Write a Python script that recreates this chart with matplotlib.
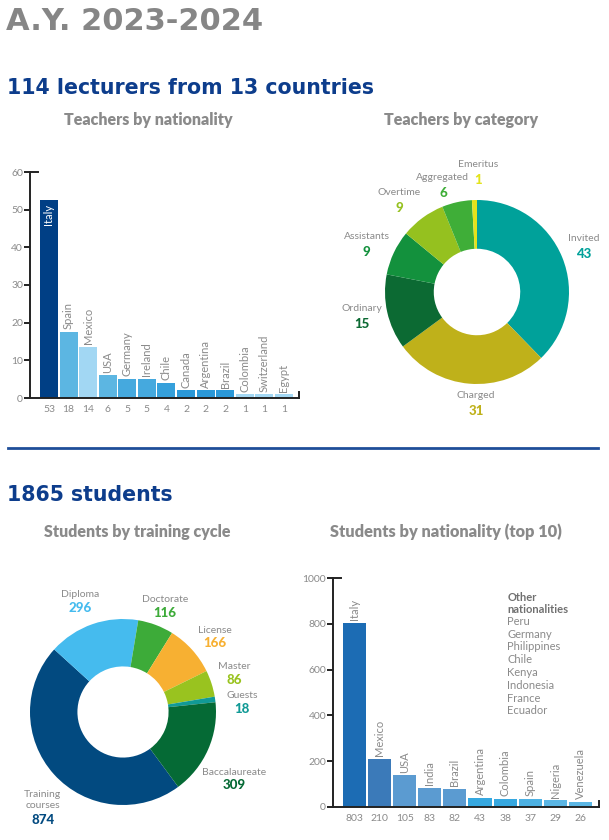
import numpy as np
import matplotlib
matplotlib.use('Agg')
import matplotlib.pyplot as plt
from matplotlib.lines import Line2D

plt.rcParams['font.family'] = ['Lato', 'DejaVu Sans']

W, H = 609, 840
GRAY = '#8a8a8a'
NAVY = '#0d3d8c'

# teachers by nationality
t_countries = ['Italy', 'Spain', 'Mexico', 'USA', 'Germany', 'Ireland', 'Chile',
               'Canada', 'Argentina', 'Brazil', 'Colombia', 'Switzerland', 'Egypt']
t_counts = [53, 18, 14, 6, 5, 5, 4, 2, 2, 2, 1, 1, 1]
t_colors = ['#003f85', '#5cb6e2', '#a2d7f3', '#5cb6e2', '#45a9de', '#45a9de', '#35a0db',
            '#2a98d8', '#2a98d8', '#2a98d8', '#a2d7f3', '#a2d7f3', '#a2d7f3']

# teachers by category
cat_names = ['Invited', 'Charged', 'Ordinary', 'Assistants', 'Overtime', 'Aggregated', 'Emeritus']
cat_counts = [43, 31, 15, 9, 9, 6, 1]
cat_colors = ['#00a19a', '#bfb11a', '#0c6a33', '#13913d', '#95c11f', '#3fae38', '#e3e31b']

# students by training cycle
cyc_names = ['Training\ncourses', 'Diploma', 'Doctorate', 'License', 'Master', 'Guests', 'Baccalaureate']
cyc_counts = [874, 296, 116, 166, 86, 18, 309]
cyc_colors = ['#024a80', '#45bbee', '#3dab39', '#f7b032', '#99c31f', '#119a96', '#056a35']

# students by nationality (top 10)
s_countries = ['Italy', 'Mexico', 'USA', 'India', 'Brazil', 'Argentina', 'Colombia',
               'Spain', 'Nigeria', 'Venezuela']
s_counts = [803, 210, 105, 83, 82, 43, 38, 37, 29, 26]
s_bar_heights = [803, 210, 138, 83, 80, 40, 36, 36, 29, 24]  # as drawn in the source
s_colors = ['#1c6cb4', '#3b7ab9', '#5b9bd1', '#5b9bd1', '#5b9bd1', '#36a8e0', '#36a8e0',
            '#4db1e3', '#5bb6e4', '#5bb6e4']
other_nat = ['Peru', 'Germany', 'Philippines', 'Chile', 'Kenya', 'Indonesia', 'France', 'Ecuador']

# label placement for the donuts (angle nudge in degrees, distance in radii)
cat_lab_nudge = [4.2, 4.1, -4.2, -1.3, 1.9, 3.9, -2.0]
cat_lab_rad = [1.30, 1.12, 1.26, 1.34, 1.37, 1.30, 1.39]
cyc_lab_nudge = [7.9, 1.0, 0.1, -0.4, 4.3, 0.0, -4.6]
cyc_lab_rad = [1.34, 1.34, 1.29, 1.32, 1.29, 1.29, 1.36]


def px_axes(fig, x0, y0, x1, y1):
    # pixel box (top-left origin) -> axes
    return fig.add_axes([x0 / W, 1 - y1 / H, (x1 - x0) / W, (y1 - y0) / H])


def ftext(fig, x, y, s, **kw):
    fig.text(x / W, 1 - y / H, s, **kw)


fig = plt.figure(figsize=(W / 100, H / 100), dpi=100)

ftext(fig, 6, 22, 'A.Y. 2023-2024', fontsize=22, fontweight='bold', color='#868686', va='center',
      family='DejaVu Sans')
ftext(fig, 7, 88, '114 lecturers from 13 countries', fontsize=14.8, fontweight='bold', color=NAVY,
      va='center', family='DejaVu Sans')
ftext(fig, 148, 120, 'Teachers by nationality', fontsize=11.5, fontweight='heavy', color=GRAY, va='center', ha='center')
ftext(fig, 461, 120, 'Teachers by category', fontsize=11.5, fontweight='heavy', color=GRAY, va='center', ha='center')
fig.add_artist(Line2D([8 / W, 598 / W], [1 - 448 / H, 1 - 448 / H], color='#1f4e99', lw=2))
ftext(fig, 7, 495, '1865 students', fontsize=14.8, fontweight='bold', color=NAVY, va='center',
      family='DejaVu Sans')
ftext(fig, 137, 532, 'Students by training cycle', fontsize=11.5, fontweight='heavy', color=GRAY, va='center', ha='center')
ftext(fig, 446, 532, 'Students by nationality (top 10)', fontsize=11.8, fontweight='heavy', color=GRAY,
      va='center', ha='center')


def bar_panel(ax, names, heights, labels, colors, ymax, ystep, xlim, first_inside):
    x = np.arange(len(names))
    ax.bar(x, heights, width=0.92, color=colors)
    ax.set_xlim(*xlim)
    ax.set_ylim(0, ymax)
    ax.set_yticks(np.arange(0, ymax + 1, ystep))
    ax.set_xticks([])
    for s in ['top', 'right']:
        ax.spines[s].set_visible(False)
    for s in ['left', 'bottom']:
        ax.spines[s].set_color('#222222')
        ax.spines[s].set_linewidth(1.4)
    ax.tick_params(axis='y', length=4, width=1.4, color='#222222', labelcolor=GRAY, labelsize=7.5, pad=1)
    # small end caps on the axes
    ax.plot([xlim[1], xlim[1]], [0, ymax * 0.025], color='#222222', lw=1.4, clip_on=False)
    ax.plot([xlim[0], xlim[0] + (xlim[1] - xlim[0]) * 0.03], [ymax, ymax], color='#222222', lw=1.4,
            clip_on=False)
    for i, (n, h, lb) in enumerate(zip(names, heights, labels)):
        if i == 0 and first_inside:
            ax.text(i, h - ymax * 0.015, n, rotation=90, ha='center', va='top', color='white',
                    fontsize=8)
        else:
            ax.text(i, h + ymax * 0.012, n, rotation=90, ha='center', va='bottom', color=GRAY,
                    fontsize=8)
        ax.annotate(str(lb), (i, 0), xycoords=('data', 'axes fraction'), xytext=(0, -8),
                    textcoords='offset points', ha='center', va='center', color=GRAY,
                    fontsize=7.5)


ax1 = px_axes(fig, 30, 172, 299, 398)
bar_panel(ax1, t_countries, [c - 0.5 for c in t_counts[:3]] + t_counts[3:], t_counts,
          t_colors, 60, 10, (-0.97, 12.77), True)

ax4 = px_axes(fig, 333, 578, 599, 807)
bar_panel(ax4, s_countries, s_bar_heights, s_counts, s_colors, 1000, 200, (-0.857, 9.74), False)
ax4.text(0.655, 0.94, 'Other\nnationalities', transform=ax4.transAxes, ha='left', va='top',
         color='#707070', fontsize=8, fontweight='bold', linespacing=1.15)
ax4.text(0.655, 0.835, '\n'.join(other_nat), transform=ax4.transAxes, ha='left', va='top',
         color=GRAY, fontsize=8, linespacing=1.2)


def donut_panel(ax, names, counts, colors, start, r_px, hole, nudges, rads, gap):
    ax.pie(counts, colors=colors, startangle=start, counterclock=False, radius=1,
           wedgeprops=dict(width=1 - hole, edgecolor='none'))
    lim = 150 / r_px
    ax.set_xlim(-lim, lim)
    ax.set_ylim(-lim, lim)
    ax.set_aspect('equal')
    ax.axis('off')
    total = sum(counts)
    ang = start
    for n, c, col, nd, rr in zip(names, counts, colors, nudges, rads):
        span = c / total * 360
        mid = np.deg2rad(ang - span / 2 + nd)
        ang -= span
        cx, cy = rr * np.cos(mid), rr * np.sin(mid)
        nl = n.count('\n')
        ax.text(cx, cy + 7 * nl / r_px, n, ha='center', va='center', color=GRAY, fontsize=7.5,
                linespacing=1.3)
        ax.text(cx, cy - gap / r_px, str(c), ha='center', va='center', color=col, fontsize=9.5,
                fontweight='black')


ax2 = px_axes(fig, 477 - 150, 292 - 150, 477 + 150, 292 + 150)
donut_panel(ax2, cat_names, cat_counts, cat_colors, 90, 92, 0.47, cat_lab_nudge, cat_lab_rad, 15.5)

ax3 = px_axes(fig, 123 - 150, 712 - 150, 123 + 150, 712 + 150)
donut_panel(ax3, cyc_names, cyc_counts, cyc_colors, -53.6, 93, 0.49, cyc_lab_nudge, cyc_lab_rad, 13)

fig.savefig('out.png', dpi=100, facecolor='white')
